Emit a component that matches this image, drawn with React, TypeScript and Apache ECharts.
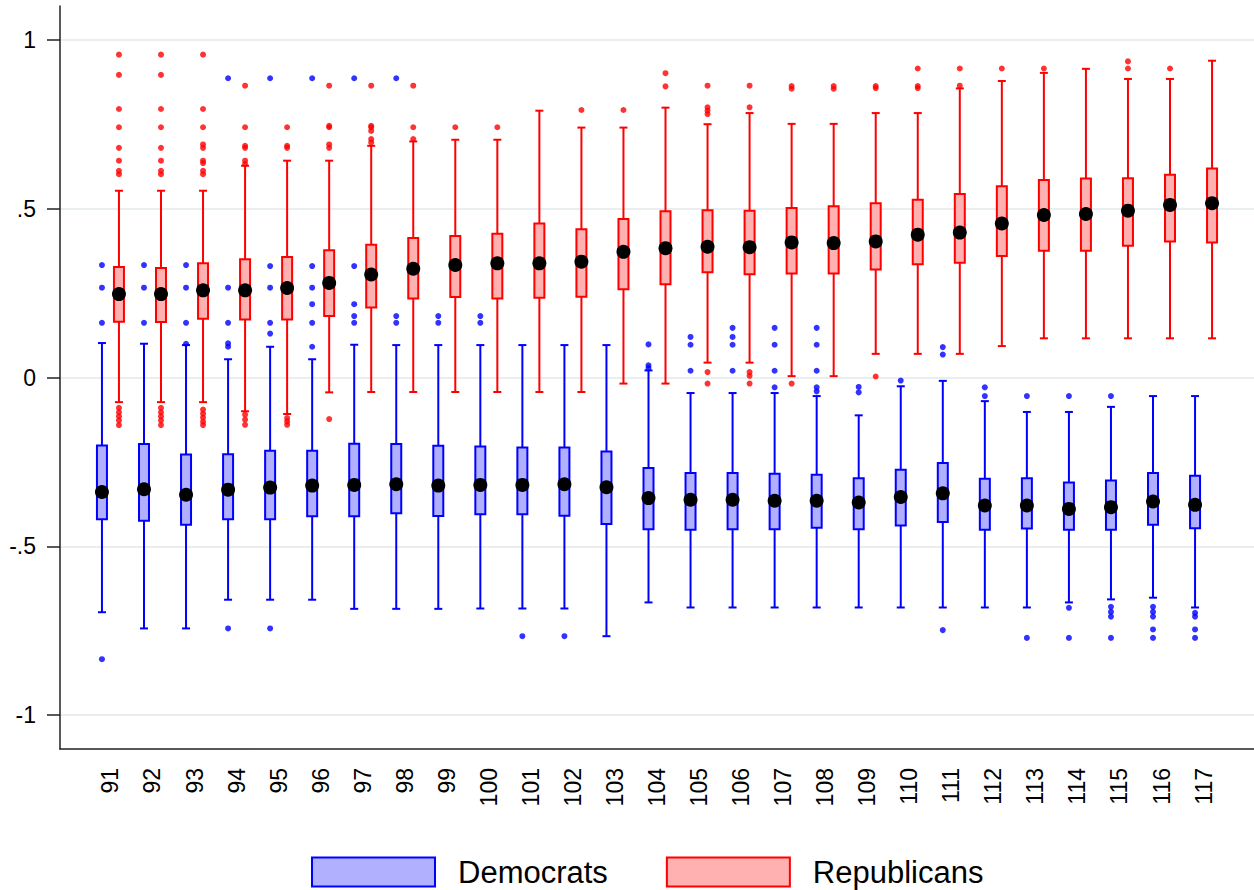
import React, { useEffect, useRef } from "react";
import * as echarts from "echarts";

// Congress numbers
const congresses = [91, 92, 93, 94, 95, 96, 97, 98, 99, 100, 101, 102, 103, 104, 105, 106, 107, 108, 109, 110, 111, 112, 113, 114, 115, 116, 117];

// [lower whisker, Q1, median, Q3, upper whisker]
const demStats = [
  [-0.695, -0.420, -0.339, -0.201, 0.102],
  [-0.743, -0.424, -0.331, -0.197, 0.100],
  [-0.743, -0.436, -0.347, -0.228, 0.096],
  [-0.658, -0.420, -0.332, -0.227, 0.054],
  [-0.658, -0.420, -0.326, -0.217, 0.091],
  [-0.658, -0.411, -0.320, -0.217, 0.054],
  [-0.685, -0.411, -0.318, -0.196, 0.097],
  [-0.685, -0.402, -0.316, -0.197, 0.096],
  [-0.685, -0.410, -0.320, -0.202, 0.096],
  [-0.684, -0.405, -0.318, -0.204, 0.096],
  [-0.684, -0.405, -0.318, -0.207, 0.096],
  [-0.684, -0.409, -0.316, -0.207, 0.096],
  [-0.766, -0.434, -0.325, -0.219, 0.096],
  [-0.666, -0.449, -0.357, -0.268, 0.021],
  [-0.681, -0.451, -0.362, -0.283, -0.046],
  [-0.681, -0.449, -0.362, -0.283, -0.046],
  [-0.681, -0.449, -0.365, -0.285, -0.046],
  [-0.681, -0.445, -0.365, -0.288, -0.055],
  [-0.681, -0.449, -0.370, -0.298, -0.112],
  [-0.681, -0.438, -0.354, -0.273, -0.026],
  [-0.681, -0.428, -0.343, -0.253, -0.010],
  [-0.681, -0.451, -0.379, -0.300, -0.070],
  [-0.681, -0.447, -0.379, -0.298, -0.102],
  [-0.666, -0.451, -0.389, -0.311, -0.102],
  [-0.657, -0.451, -0.384, -0.305, -0.087],
  [-0.652, -0.436, -0.367, -0.283, -0.055],
  [-0.681, -0.446, -0.377, -0.291, -0.055],
];

const repStats = [
  [-0.073, 0.165, 0.247, 0.327, 0.553],
  [-0.073, 0.164, 0.247, 0.324, 0.553],
  [-0.073, 0.174, 0.258, 0.338, 0.553],
  [-0.100, 0.172, 0.258, 0.350, 0.627],
  [-0.108, 0.172, 0.265, 0.357, 0.642],
  [-0.044, 0.182, 0.280, 0.377, 0.642],
  [-0.043, 0.207, 0.305, 0.393, 0.686],
  [-0.043, 0.234, 0.322, 0.413, 0.699],
  [-0.043, 0.238, 0.333, 0.419, 0.704],
  [-0.043, 0.234, 0.338, 0.426, 0.704],
  [-0.043, 0.236, 0.338, 0.456, 0.790],
  [-0.043, 0.239, 0.343, 0.439, 0.740],
  [-0.018, 0.261, 0.372, 0.469, 0.740],
  [-0.018, 0.276, 0.383, 0.492, 0.799],
  [0.044, 0.312, 0.387, 0.495, 0.750],
  [0.044, 0.306, 0.386, 0.494, 0.783],
  [0.004, 0.308, 0.400, 0.502, 0.751],
  [0.004, 0.308, 0.398, 0.507, 0.751],
  [0.070, 0.320, 0.403, 0.516, 0.783],
  [0.070, 0.335, 0.423, 0.526, 0.783],
  [0.070, 0.340, 0.429, 0.543, 0.856],
  [0.093, 0.360, 0.456, 0.566, 0.878],
  [0.116, 0.375, 0.481, 0.585, 0.902],
  [0.116, 0.375, 0.484, 0.589, 0.914],
  [0.116, 0.390, 0.494, 0.590, 0.884],
  [0.116, 0.403, 0.511, 0.600, 0.884],
  [0.116, 0.400, 0.516, 0.619, 0.938],
];

// outliers per congress (same order as congresses)
const demOutliers = [
  [0.333, 0.266, 0.162, -0.834],
  [0.333, 0.266, 0.162],
  [0.333, 0.266, 0.162, 0.100],
  [0.886, 0.266, 0.162, 0.101, 0.091, -0.743],
  [0.886, 0.330, 0.266, 0.162, 0.130, -0.743],
  [0.886, 0.330, 0.266, 0.217, 0.162, 0.091],
  [0.886, 0.330, 0.217, 0.182, 0.162],
  [0.886, 0.182, 0.162],
  [0.182, 0.162],
  [0.182, 0.162],
  [-0.766],
  [-0.766],
  [],
  [0.098, 0.036, 0.028],
  [0.120, 0.097, 0.020],
  [0.147, 0.120, 0.097, 0.020],
  [0.147, 0.097, 0.020, -0.029],
  [0.147, 0.097, 0.020, -0.029, -0.041],
  [-0.028, -0.044],
  [-0.009],
  [0.090, 0.068, -0.748],
  [-0.029, -0.055],
  [-0.055, -0.771],
  [-0.055, -0.682, -0.771],
  [-0.055, -0.679, -0.694, -0.708, -0.771],
  [-0.679, -0.694, -0.708, -0.746, -0.771],
  [-0.697, -0.708, -0.746, -0.771],
];

const repOutliers = [
  [0.956, 0.896, 0.795, 0.741, 0.680, 0.642, 0.612, 0.602, -0.090, -0.103, -0.115, -0.127, -0.141],
  [0.956, 0.896, 0.795, 0.741, 0.680, 0.642, 0.612, 0.602, -0.090, -0.103, -0.115, -0.127, -0.141],
  [0.956, 0.795, 0.741, 0.690, 0.680, 0.642, 0.635, 0.612, 0.602, -0.095, -0.107, -0.119, -0.131, -0.141],
  [0.864, 0.741, 0.686, 0.680, 0.642, 0.632, -0.110, -0.125, -0.140],
  [0.741, 0.686, 0.680, -0.120, -0.130, -0.140],
  [0.864, 0.745, 0.741, 0.690, 0.680, -0.123],
  [0.864, 0.745, 0.741, 0.730, 0.706, 0.696],
  [0.864, 0.741, 0.706],
  [0.741],
  [0.741],
  [],
  [0.792],
  [0.792],
  [0.901, 0.862],
  [0.864, 0.800, 0.790, 0.780, 0.016, -0.018],
  [0.864, 0.800, 0.016, 0.005, -0.018],
  [0.863, 0.855, -0.018],
  [0.863, 0.855],
  [0.863, 0.857, 0.003],
  [0.915, 0.863, 0.857],
  [0.915, 0.864],
  [0.915],
  [0.915],
  [],
  [0.936, 0.915],
  [0.915],
  [],
];

const yTicks = [-1, -0.5, 0, 0.5, 1];
const yTickLabels = ["-1", "-.5", "0", ".5", "1"];

const DEM_STROKE = "#0000ff";
const DEM_FILL = "#b0b0ff";
const REP_STROKE = "#ff0000";
const REP_FILL = "#ffb0b0";
const FONT = "'Liberation Sans', Arial, Helvetica, sans-serif";
const OFFSET = 8.5;

function makeRender(offset: number, stroke: string, fill: string) {
  return (params: any, api: any) => {
    const x = api.value(0);
    const lo = api.coord([x, api.value(1)]);
    const q1 = api.coord([x, api.value(2)]);
    const q3 = api.coord([x, api.value(4)]);
    const hi = api.coord([x, api.value(5)]);
    const cx = lo[0] + offset;
    const halfBox = 5;
    const halfCap = 4;
    const ls = { stroke, lineWidth: 2 };
    return {
      type: "group",
      children: [
        { type: "line", shape: { x1: cx, y1: hi[1], x2: cx, y2: q3[1] }, style: ls },
        { type: "line", shape: { x1: cx, y1: q1[1], x2: cx, y2: lo[1] }, style: ls },
        { type: "line", shape: { x1: cx - halfCap, y1: hi[1], x2: cx + halfCap, y2: hi[1] }, style: ls },
        { type: "line", shape: { x1: cx - halfCap, y1: lo[1], x2: cx + halfCap, y2: lo[1] }, style: ls },
        {
          type: "rect",
          shape: { x: cx - halfBox, y: q3[1], width: halfBox * 2, height: q1[1] - q3[1] },
          style: { fill, stroke, lineWidth: 2 },
        },
      ],
    };
  };
}

export default function App() {
  const ref = useRef<HTMLDivElement>(null);

  useEffect(() => {
    if (!ref.current) return;
    const chart = echarts.init(ref.current, null, { renderer: "svg" });

    const demBox = congresses.map((c, i) => [c, ...demStats[i]]);
    const repBox = congresses.map((c, i) => [c, ...repStats[i]]);
    const demMed = congresses.map((c, i) => [c, demStats[i][2]]);
    const repMed = congresses.map((c, i) => [c, repStats[i][2]]);
    const demOut: number[][] = [];
    const repOut: number[][] = [];
    congresses.forEach((c, i) => {
      demOutliers[i].forEach((v) => demOut.push([c, v]));
      repOutliers[i].forEach((v) => repOut.push([c, v]));
    });

    const option: any = {
      animation: false,
      backgroundColor: "#ffffff",
      grid: { left: 60, right: 0, top: 6, bottom: 141, containLabel: false },
      xAxis: {
        type: "value",
        min: 89.8,
        max: 118.2,
        axisLine: { show: true, onZero: false, lineStyle: { color: "#222", width: 1.5 } },
        axisTick: { show: false },
        splitLine: { show: false },
        axisLabel: {
          customValues: congresses,
          rotate: 90,
          margin: 19,
          fontSize: 23,
          color: "#000",
          fontFamily: FONT,
          formatter: (v: number) => String(v),
        },
      },
      yAxis: {
        type: "value",
        min: -1.1,
        max: 1.1,
        axisLine: { show: true, onZero: false, lineStyle: { color: "#222", width: 1.5 } },
        axisTick: {
          show: true,
          length: 13,
          customValues: yTicks,
          lineStyle: { color: "#222", width: 1.5 },
        },
        splitLine: { show: true, lineStyle: { color: "#e2eaed", width: 1.5 } },
        axisLabel: {
          customValues: yTicks,
          margin: 24,
          fontSize: 23,
          color: "#000",
          fontFamily: FONT,
          formatter: (v: number) => {
            const idx = yTicks.findIndex((t) => Math.abs(t - v) < 1e-9);
            return idx >= 0 ? yTickLabels[idx] : "";
          },
        },
      },
      legend: {
        left: 306,
        top: 850,
        itemWidth: 123,
        itemHeight: 29,
        itemGap: 58,
        selectedMode: false,
        textStyle: { fontSize: 31, lineHeight: 34, color: "#000", fontFamily: FONT, padding: [0, 0, 0, 18] },
        data: [
          { name: "Democrats", icon: "rect", itemStyle: { color: DEM_FILL, borderColor: DEM_STROKE, borderWidth: 2 } },
          { name: "Republicans", icon: "rect", itemStyle: { color: REP_FILL, borderColor: REP_STROKE, borderWidth: 2 } },
        ],
      },
      series: [
        {
          name: "Democrats",
          type: "custom",
          renderItem: makeRender(-OFFSET, DEM_STROKE, DEM_FILL),
          encode: { x: 0, y: [1, 2, 3, 4, 5] },
          itemStyle: { color: DEM_FILL, borderColor: DEM_STROKE, borderWidth: 2 },
          data: demBox,
          z: 2,
        },
        {
          name: "Republicans",
          type: "custom",
          renderItem: makeRender(OFFSET, REP_STROKE, REP_FILL),
          encode: { x: 0, y: [1, 2, 3, 4, 5] },
          itemStyle: { color: REP_FILL, borderColor: REP_STROKE, borderWidth: 2 },
          data: repBox,
          z: 2,
        },
        {
          name: "Democrats outliers",
          type: "scatter",
          symbol: "circle",
          symbolSize: 6,
          symbolOffset: [-OFFSET, 0],
          itemStyle: { color: DEM_STROKE },
          data: demOut,
          z: 3,
        },
        {
          name: "Republicans outliers",
          type: "scatter",
          symbol: "circle",
          symbolSize: 6,
          symbolOffset: [OFFSET, 0],
          itemStyle: { color: REP_STROKE },
          data: repOut,
          z: 3,
        },
        {
          name: "Democrats median",
          type: "scatter",
          symbol: "circle",
          symbolSize: 14,
          symbolOffset: [-OFFSET, 0],
          itemStyle: { color: "#000", opacity: 1 },
          data: demMed,
          z: 4,
        },
        {
          name: "Republicans median",
          type: "scatter",
          symbol: "circle",
          symbolSize: 14,
          symbolOffset: [OFFSET, 0],
          itemStyle: { color: "#000", opacity: 1 },
          data: repMed,
          z: 4,
        },
      ],
    };

    chart.setOption(option);
    return () => chart.dispose();
  }, []);

  return (
    <div
      ref={ref}
      style={{ position: "fixed", left: 0, top: 0, width: 1254, height: 890, background: "#fff" }}
    />
  );
}
